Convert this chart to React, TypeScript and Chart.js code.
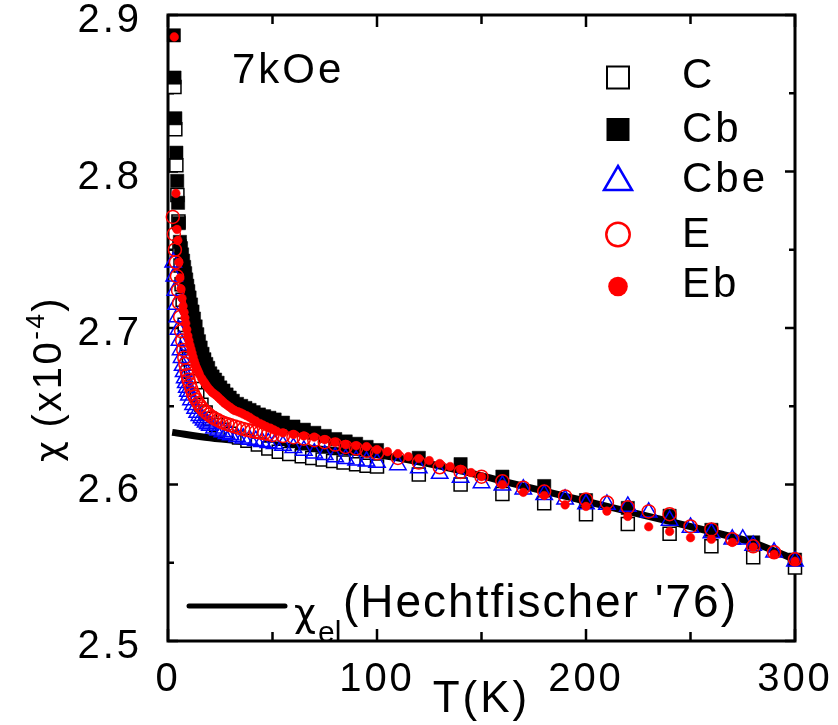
import React, { useEffect, useRef } from 'react';
import { Chart, registerables } from 'chart.js';

Chart.register(...registerables);

const FONT = "'Liberation Sans', Arial, Helvetica, sans-serif";
const GREEK_FONT = "'DejaVu Sans', 'Liberation Serif', serif";

// ---- electronic susceptibility line (Hechtfischer '76)
const T_EL = [2, 20, 40, 60, 80, 100, 120, 140, 160, 180, 200, 220, 240, 260, 280, 300];
const CHI_EL = [2.6333, 2.6298, 2.627, 2.6242, 2.6217, 2.619, 2.6145, 2.6088, 2.6022, 2.5958, 2.5893, 2.5828, 2.5764, 2.5698, 2.5628, 2.552];

// ---- C (open squares)
const T_C = [3.1, 3.5, 4, 4.5, 5, 5.5, 6, 6.5, 7, 8, 9, 10, 11, 12, 13, 14, 16, 18, 20, 23, 26, 30, 34, 38, 43, 48, 53, 58, 64, 69, 74, 79, 84, 90, 95, 100, 120, 140, 160, 180, 200, 220, 240, 260, 280, 300];
const CHI_C = [2.854, 2.827, 2.804, 2.785, 2.768, 2.752, 2.74, 2.728, 2.718, 2.702, 2.69, 2.68, 2.672, 2.666, 2.661, 2.657, 2.651, 2.646, 2.642, 2.638, 2.635, 2.6325, 2.63, 2.628, 2.6255, 2.623, 2.621, 2.6195, 2.618, 2.617, 2.616, 2.615, 2.614, 2.613, 2.612, 2.6115, 2.6064, 2.6, 2.594, 2.588, 2.581, 2.5748, 2.5685, 2.5605, 2.5535, 2.547];

// ---- Cb (filled squares)
const T_CB = [2.8, 3.1, 3.5, 4, 4.4, 4.8, 5.2, 5.7, 6.2, 6.7, 7.2, 7.7, 8.2, 8.7, 9.2, 9.7, 10.3, 11, 11.7, 12.4, 13.2, 14, 14.8, 15.6, 16.5, 17.4, 18.3, 19.2, 20.2, 21.3, 22.5, 23.7, 25, 26.5, 28, 29.5, 31, 33, 35, 37, 39, 41, 43.5, 46, 48.5, 51, 55, 60, 65, 70, 75, 80, 85, 90, 95, 100, 120, 140, 160, 180, 200, 220, 240, 260, 280, 300];
const CHI_CB = [2.887, 2.86, 2.834, 2.812, 2.794, 2.78, 2.767, 2.755, 2.751, 2.747, 2.743, 2.739, 2.735, 2.731, 2.727, 2.7235, 2.7195, 2.715, 2.7105, 2.706, 2.701, 2.696, 2.6915, 2.6875, 2.6835, 2.68, 2.677, 2.6745, 2.671, 2.669, 2.667, 2.665, 2.662, 2.66, 2.6575, 2.6555, 2.6535, 2.6515, 2.6502, 2.6489, 2.6476, 2.6462, 2.6447, 2.6436, 2.6426, 2.6415, 2.6395, 2.637, 2.635, 2.633, 2.631, 2.629, 2.6275, 2.626, 2.624, 2.622, 2.617, 2.613, 2.605, 2.599, 2.59, 2.585, 2.58, 2.571, 2.563, 2.552];

// ---- Cbe (open triangles)
const T_CBE = [2.5, 3, 3.5, 4, 4.5, 5, 5.5, 6, 6.5, 7, 7.5, 8, 8.5, 9, 9.5, 10, 11, 12, 13, 14, 15, 16, 17, 18, 19, 20, 22, 24, 26, 28, 30, 33, 36, 39, 42, 45, 48, 51, 55, 60, 65, 70, 75, 80, 85, 90, 95, 100, 110, 120, 130, 140, 150, 160, 170, 180, 190, 200, 210, 220, 230, 240, 250, 260, 270, 275, 280, 290, 300];
const CHI_CBE = [2.742, 2.733, 2.724, 2.715, 2.707, 2.699, 2.692, 2.686, 2.681, 2.676, 2.672, 2.668, 2.665, 2.662, 2.6595, 2.657, 2.654, 2.651, 2.6485, 2.646, 2.644, 2.6425, 2.641, 2.6398, 2.6387, 2.6377, 2.636, 2.6347, 2.6335, 2.6325, 2.6316, 2.6305, 2.6296, 2.6288, 2.628, 2.6273, 2.6266, 2.626, 2.625, 2.6235, 2.6218, 2.62, 2.619, 2.6175, 2.6165, 2.6155, 2.6148, 2.614, 2.6125, 2.6105, 2.607, 2.6045, 2.601, 2.5995, 2.597, 2.5935, 2.5905, 2.5875, 2.5873, 2.586, 2.5822, 2.577, 2.5726, 2.569, 2.565, 2.565, 2.561, 2.5567, 2.551];

// ---- E (open circles)
const T_E = [2.3, 2.8, 3.3, 3.8, 4.3, 4.8, 5.3, 5.8, 6.3, 6.8, 7.3, 7.8, 8.3, 8.8, 9.3, 9.8, 10.5, 11.2, 12, 12.8, 13.6, 14.5, 15.5, 16.5, 17.5, 18.5, 19.5, 21, 22.5, 24, 25.5, 27, 28.5, 30, 32, 34, 36, 38, 40, 42, 44, 46, 48, 50, 55, 60, 65, 70, 75, 80, 85, 90, 95, 100, 110, 120, 130, 140, 150, 160, 170, 180, 190, 200, 210, 220, 230, 240, 250, 260, 270, 280, 290, 300];
const CHI_E = [2.771, 2.76, 2.75, 2.742, 2.733, 2.724, 2.716, 2.707, 2.698, 2.692, 2.686, 2.681, 2.677, 2.673, 2.67, 2.667, 2.664, 2.661, 2.658, 2.656, 2.654, 2.652, 2.65, 2.6485, 2.647, 2.6458, 2.6447, 2.6432, 2.642, 2.641, 2.64, 2.6392, 2.6385, 2.6378, 2.637, 2.6362, 2.6355, 2.6348, 2.6342, 2.6337, 2.6332, 2.6327, 2.6322, 2.6317, 2.631, 2.6302, 2.6293, 2.6283, 2.627, 2.6255, 2.624, 2.623, 2.6215, 2.62, 2.617, 2.614, 2.611, 2.608, 2.605, 2.602, 2.598, 2.5955, 2.5924, 2.5904, 2.5885, 2.5854, 2.5828, 2.581, 2.5732, 2.5713, 2.565, 2.5605, 2.5567, 2.5522];

// ---- Eb (filled circles)
const T_EB = [3, 3.8, 4.3, 4.7, 5.2, 5.7, 6.2, 6.7, 7.2, 7.7, 8.1, 8.5, 9, 9.5, 10, 10.5, 11, 11.5, 12, 12.5, 13, 13.5, 14, 14.5, 15, 16, 16.7, 17.5, 18.2, 19, 20, 21, 22, 23, 24, 25, 26, 27, 28, 29, 30, 31, 32, 33.5, 34.7, 36, 37.5, 39, 40.5, 42, 44, 45.5, 47, 49, 50.5, 52, 55, 60, 65, 70, 75, 80, 85, 90, 95, 100, 105, 110, 115, 120, 125, 130, 135, 140, 145, 150, 160, 170, 180, 190, 200, 210, 220, 230, 240, 250, 260, 270, 280, 290, 300];
const CHI_EB = [2.886, 2.786, 2.763, 2.756, 2.742, 2.732, 2.725, 2.719, 2.714, 2.71, 2.7065, 2.703, 2.699, 2.695, 2.692, 2.689, 2.6865, 2.684, 2.6815, 2.679, 2.677, 2.675, 2.6735, 2.672, 2.6705, 2.668, 2.6665, 2.665, 2.6635, 2.662, 2.6605, 2.659, 2.658, 2.657, 2.6558, 2.6545, 2.6533, 2.652, 2.651, 2.65, 2.649, 2.648, 2.6472, 2.6465, 2.6458, 2.645, 2.644, 2.643, 2.6415, 2.6405, 2.639, 2.638, 2.637, 2.636, 2.635, 2.634, 2.633, 2.632, 2.631, 2.6303, 2.6287, 2.6268, 2.6255, 2.6248, 2.6242, 2.6223, 2.621, 2.6197, 2.6178, 2.6166, 2.6153, 2.6134, 2.6115, 2.6096, 2.6076, 2.605, 2.6, 2.595, 2.593, 2.587, 2.586, 2.583, 2.5796, 2.573, 2.57, 2.566, 2.565, 2.563, 2.56, 2.5554, 2.551];

// ---- axes
const X_TICKS = [0, 100, 200, 300];
const Y_TICKS = [2.5, 2.6, 2.7, 2.8, 2.9];
const X_TICK_MARKS = [0, 50, 100, 150, 200, 250, 300];
const Y_TICK_MARKS = [2.5, 2.55, 2.6, 2.65, 2.7, 2.75, 2.8, 2.85, 2.9];

// ---- texts
const SERIES_LABELS = ['C', 'Cb', 'Cbe', 'E', 'Eb'];
const FIELD_TEXT = '7kOe';
const X_TITLE = 'T(K)';
const Y_TITLE_CHI = 'χ';
const Y_TITLE_MAIN = ' (x10';
const Y_TITLE_EXP = '-4';
const Y_TITLE_END = ')';
const EL_SYMBOL = 'χ';
const EL_SUB = 'el';
const EL_REF = "(Hechtfischer '76)";

const toPoints = (t: number[], v: number[]) => t.map((x, i) => ({ x, y: v[i] }));

function legendMarker(ctx: CanvasRenderingContext2D, kind: string, x: number, y: number) {
  ctx.save();
  ctx.lineWidth = 2;
  if (kind === 'C') {
    ctx.fillStyle = '#fff';
    ctx.strokeStyle = '#000';
    ctx.fillRect(x - 11, y - 11, 22, 22);
    ctx.strokeRect(x - 11, y - 11, 22, 22);
  } else if (kind === 'Cb') {
    ctx.fillStyle = '#000';
    ctx.fillRect(x - 11.5, y - 11.5, 23, 23);
  } else if (kind === 'Cbe') {
    ctx.strokeStyle = '#0000ff';
    ctx.lineWidth = 2.5;
    ctx.beginPath();
    ctx.moveTo(x, y - 12);
    ctx.lineTo(x + 14, y + 12);
    ctx.lineTo(x - 14, y + 12);
    ctx.closePath();
    ctx.stroke();
  } else if (kind === 'E') {
    ctx.strokeStyle = '#ff0000';
    ctx.lineWidth = 2.5;
    ctx.beginPath();
    ctx.arc(x, y, 11.7, 0, Math.PI * 2);
    ctx.stroke();
  } else {
    ctx.fillStyle = '#ff0000';
    ctx.beginPath();
    ctx.arc(x, y, 9.8, 0, Math.PI * 2);
    ctx.fill();
  }
  ctx.restore();
}

const LEGEND_ROWS = [
  { marker: 77.5, base: 88 },
  { marker: 129.5, base: 142 },
  { marker: 178, base: 192 },
  { marker: 234.5, base: 247 },
  { marker: 286.5, base: 297 },
];

const overlayPlugin = {
  id: 'overlay',
  beforeDraw(chart: any) {
    (chart.ctx as any).letterSpacing = '3px';
  },
  beforeDatasetsDraw(chart: any) {
    const { ctx, chartArea: a, scales } = chart;
    ctx.save();
    ctx.strokeStyle = '#000';
    ctx.lineWidth = 2.5;
    ctx.beginPath();
    for (const v of X_TICK_MARKS) {
      const px = scales.x.getPixelForValue(v);
      const len = v % 100 === 0 ? 12 : 9;
      ctx.moveTo(px, a.bottom);
      ctx.lineTo(px, a.bottom - len);
      ctx.moveTo(px, a.top);
      ctx.lineTo(px, a.top + len);
    }
    for (const v of Y_TICK_MARKS) {
      const py = scales.y.getPixelForValue(v);
      const major = Math.abs(v * 10 - Math.round(v * 10)) < 1e-6;
      const len = major ? 10 : 6;
      ctx.moveTo(a.left, py);
      ctx.lineTo(a.left + len, py);
      ctx.moveTo(a.right, py);
      ctx.lineTo(a.right - len, py);
    }
    ctx.stroke();
    ctx.lineWidth = 3;
    ctx.strokeRect(a.left, a.top, a.right - a.left, a.bottom - a.top);
    ctx.restore();
  },
  afterDraw(chart: any) {
    const ctx: CanvasRenderingContext2D = chart.ctx;
    ctx.save();
    ctx.fillStyle = '#000';
    ctx.textAlign = 'left';
    ctx.textBaseline = 'alphabetic';
    (ctx as any).letterSpacing = '3px';

    // field label
    ctx.font = `42px ${FONT}`;
    ctx.fillText(FIELD_TEXT, 232, 83);

    // series legend
    SERIES_LABELS.forEach((label, i) => {
      legendMarker(ctx, label, 618, LEGEND_ROWS[i].marker);
      ctx.fillStyle = '#000';
      ctx.font = `42px ${FONT}`;
      ctx.fillText(label, 682, LEGEND_ROWS[i].base);
    });

    // line legend
    ctx.strokeStyle = '#000';
    ctx.lineWidth = 5;
    ctx.lineCap = 'round';
    ctx.beginPath();
    ctx.moveTo(189, 606);
    ctx.lineTo(285, 606);
    ctx.stroke();
    (ctx as any).letterSpacing = '0px';
    ctx.font = `38px ${GREEK_FONT}`;
    ctx.fillText(EL_SYMBOL, 294, 626);
    ctx.font = `30px ${FONT}`;
    ctx.fillText(EL_SUB, 318, 642);
    (ctx as any).letterSpacing = '2px';
    ctx.font = `46px ${FONT}`;
    ctx.fillText(EL_REF, 343, 617);

    // y title (rotated)
    ctx.save();
    ctx.translate(61, 462);
    ctx.rotate(-Math.PI / 2);
    (ctx as any).letterSpacing = '0px';
    ctx.font = `36px ${GREEK_FONT}`;
    ctx.fillText(Y_TITLE_CHI, 0, 0);
    let w = ctx.measureText(Y_TITLE_CHI).width;
    (ctx as any).letterSpacing = '2.5px';
    ctx.font = `40px ${FONT}`;
    ctx.fillText(Y_TITLE_MAIN, w, 0);
    w += ctx.measureText(Y_TITLE_MAIN).width;
    ctx.font = `26px ${FONT}`;
    ctx.fillText(Y_TITLE_EXP, w, -17);
    w += ctx.measureText(Y_TITLE_EXP).width;
    ctx.font = `40px ${FONT}`;
    ctx.fillText(Y_TITLE_END, w, 0);
    ctx.restore();

    ctx.restore();
  },
};

export default function App() {
  const ref = useRef<HTMLCanvasElement | null>(null);

  useEffect(() => {
    if (!ref.current) return;
    const common = { clip: false as any };
    const chart = new Chart(ref.current, {
      type: 'scatter',
      data: {
        datasets: [
          {
            ...common,
            label: 'Eb',
            order: 0,
            data: toPoints(T_EB, CHI_EB),
            pointStyle: 'circle',
            pointRadius: 4.3,
            pointBackgroundColor: '#ff0000',
            pointBorderColor: '#ff0000',
            pointBorderWidth: 0.5,
          },
          {
            ...common,
            label: 'E',
            order: 1,
            data: toPoints(T_E, CHI_E),
            pointStyle: 'circle',
            pointRadius: 6.5,
            pointBackgroundColor: 'rgba(0,0,0,0)',
            pointBorderColor: '#ff0000',
            pointBorderWidth: 1.5,
          },
          {
            ...common,
            label: 'Cbe',
            order: 2,
            data: toPoints(T_CBE, CHI_CBE),
            pointStyle: 'triangle',
            pointRadius: 9.5,
            pointBackgroundColor: 'rgba(0,0,0,0)',
            pointBorderColor: '#0000ff',
            pointBorderWidth: 1.5,
          },
          {
            ...common,
            label: 'Cb',
            order: 3,
            data: toPoints(T_CB, CHI_CB),
            pointStyle: 'rect',
            pointRadius: 9.4,
            pointBackgroundColor: '#000',
            pointBorderColor: '#000',
            pointBorderWidth: 0.5,
          },
          {
            ...common,
            label: 'C',
            order: 4,
            data: toPoints(T_C, CHI_C),
            pointStyle: 'rect',
            pointRadius: 9.2,
            pointBackgroundColor: '#fff',
            pointBorderColor: '#000',
            pointBorderWidth: 1.5,
          },
          {
            ...common,
            type: 'line',
            label: 'χel',
            order: 5,
            data: toPoints(T_EL, CHI_EL),
            borderColor: '#000',
            borderWidth: 7,
            pointRadius: 0,
            showLine: true,
            fill: false,
            cubicInterpolationMode: 'monotone',
          } as any,
        ],
      },
      options: {
        responsive: false,
        animation: false,
        devicePixelRatio: 1,
        events: [],
        layout: { padding: { left: 0, right: 43, top: 15, bottom: 0 } },
        plugins: {
          legend: { display: false },
          tooltip: { enabled: false },
          title: { display: false },
        },
        scales: {
          x: {
            type: 'linear',
            min: 0,
            max: 300,
            afterBuildTicks: (s: any) => {
              s.ticks = X_TICKS.map((v) => ({ value: v }));
            },
            ticks: {
              font: { family: FONT, size: 40 },
              color: '#000',
              padding: 7,
              maxRotation: 0,
              autoSkip: false,
              callback: (v: any) => String(v),
            },
            grid: { display: false },
            border: { display: false },
            title: {
              display: true,
              text: X_TITLE,
              font: { family: FONT, size: 44, lineHeight: 1 },
              color: '#000',
              padding: { top: 0, bottom: 3 },
            },
            afterFit: (s: any) => {
              s.height = 84;
              s.paddingLeft = 0;
              s.paddingRight = 0;
            },
          },
          y: {
            type: 'linear',
            min: 2.5,
            max: 2.9,
            afterBuildTicks: (s: any) => {
              s.ticks = Y_TICKS.map((v) => ({ value: v }));
            },
            ticks: {
              font: { family: FONT, size: 40 },
              color: '#000',
              padding: 18,
              labelOffset: 6,
              autoSkip: false,
              callback: (v: any) => Number(v).toFixed(1),
            },
            grid: { display: false },
            border: { display: false },
            afterFit: (s: any) => {
              s.width = 168;
              s.paddingTop = 0;
              s.paddingBottom = 0;
            },
          },
        },
      },
      plugins: [overlayPlugin],
    } as any);
    return () => chart.destroy();
  }, []);

  return (
    <div style={{ position: 'absolute', left: 0, top: 0, width: 838, height: 725, background: '#fff' }}>
      <canvas ref={ref} width={838} height={725} style={{ display: 'block' }} />
    </div>
  );
}
